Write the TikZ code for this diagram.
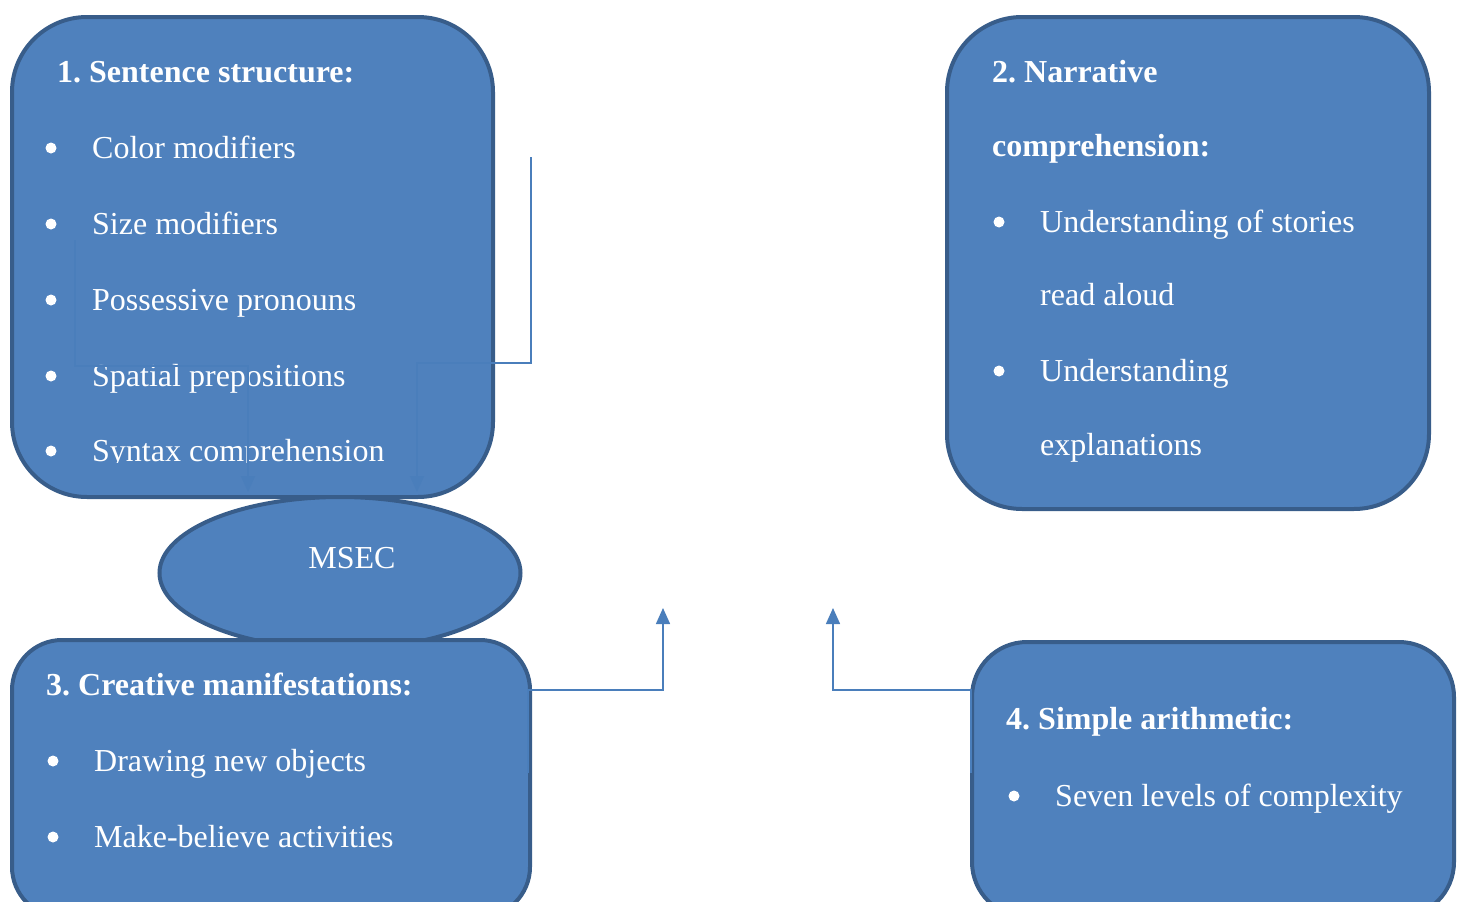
\documentclass[tikz,border=0pt]{standalone}
\usepackage{fontspec}
\setmainfont{Liberation Serif}
\usetikzlibrary{arrows.meta,shapes.geometric}
\definecolor{boxfill}{HTML}{4F81BD}
\definecolor{boxline}{HTML}{385D8A}
\definecolor{linkcol}{HTML}{4A7EBB}
\frenchspacing
\begin{document}
\begin{tikzpicture}[x=1pt,y=-1pt,
  box/.style={draw=boxline,fill=boxfill,line width=4pt,rounded corners=#1,anchor=north west,inner sep=0pt},
  txt/.style={text=white,anchor=base west,inner sep=0pt,font=\fontsize{32}{38}\selectfont},
  head/.style={txt,font=\fontsize{32}{38}\selectfont\bfseries},
  dot/.style={circle,fill=white,inner sep=0pt,minimum size=11pt},
  link/.style={draw=linkcol,line width=1.5pt},
  tip/.style={-{Triangle[width=14pt,length=16pt]}}]
\useasboundingbox (0,0) rectangle (1460,902);
% boxes
\node[box=75pt,minimum width=481pt,minimum height=480pt] (b1) at (10,15) {};
\node[box=75pt,minimum width=482pt,minimum height=492pt] (b2) at (945,15) {};
\node[ellipse,draw=boxline,fill=boxfill,line width=4pt,minimum width=361pt,minimum height=152pt] (msec) at (340,573) {};
\node[box=50pt,minimum width=518pt,minimum height=277pt] (b3) at (10,638) {};
\node[box=55pt,minimum width=482pt,minimum height=275pt] (b4) at (970,640) {};
% box 1
\node[head] (t1) at (57,82) {1. Sentence structure:};
\node[dot] (d11) at (51,148) {};
\node[txt] (i11) at (92,158) {Color modifiers};
\node[dot] (d12) at (51,224) {};
\node[txt] (i12) at (92,234) {Size modifiers};
\node[dot] (d13) at (51,300) {};
\node[txt] (i13) at (92,310) {Possessive pronouns};
\node[dot] (d14) at (51,376) {};
\node[txt] (i14) at (92,386) {Spatial prepositions};
\node[dot] (d15) at (51,451) {};
\begin{scope}
\clip (0,0) rectangle (500,462);
\node[txt] (i15) at (92,461) {Syntax comprehension};
\end{scope}
% box 2
\node[head] (t2) at (992,82) {2. Narrative};
\node[head] (t2b) at (992,156) {comprehension:};
\node[dot] (d21) at (999,222) {};
\node[txt] (i21) at (1040,232) {Understanding of stories};
\node[txt] (i21b) at (1040,305) {read aloud};
\node[dot] (d22) at (999,371) {};
\node[txt] (i22) at (1040,381) {Understanding};
\node[txt] (i22b) at (1040,455) {explanations};
% centre
\node[txt,anchor=base] (m) at (352,568) {MSEC};
% box 3
\node[head] (t3) at (46,695) {3. Creative manifestations:};
\node[dot] (d31) at (53,761) {};
\node[txt] (i31) at (94,771) {Drawing new objects};
\node[dot] (d32) at (53,837) {};
\node[txt] (i32) at (94,847) {Make-believe activities};
% box 4
\node[head] (t4) at (1006,729) {4. Simple arithmetic:};
\node[dot] (d41) at (1014,796) {};
\node[txt] (i41) at (1055,806) {Seven levels of complexity};
% connectors
\coordinate (c1) at (75,240);
\coordinate (e1) at (248,492);
\coordinate (c2) at (531,157);
\coordinate (e2) at (417,492);
\coordinate (c3) at (528,773);
\coordinate (e3) at (663,608);
\coordinate (c4) at (971,773);
\coordinate (e4) at (833,608);
\draw[link,tip] (c1) -- ++(0,126) -| (e1);
\draw[link,tip] (c2) -- ++(0,206) -| (e2);
\draw[link,tip] (c3) -- ++(0,-83) -| (e3);
\draw[link,tip] (c4) -- ++(0,-83) -| (e4);
\end{tikzpicture}
\end{document}
